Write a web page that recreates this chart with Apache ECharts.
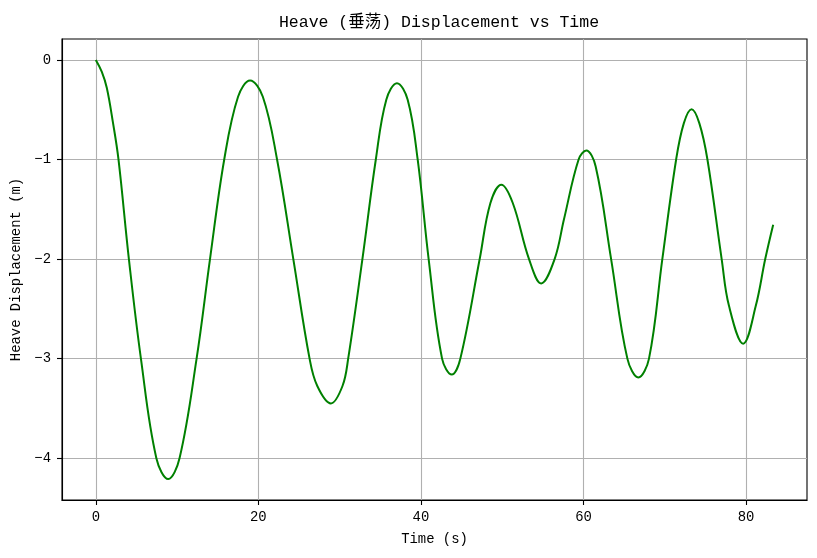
<!DOCTYPE html>
<html>
<head>
<meta charset="utf-8">
<script src="https://cdn.jsdelivr.net/npm/echarts@6/dist/echarts.min.js"></script>
<style>html,body{margin:0;padding:0;background:#fff;}#c{width:817px;height:558px;}</style>
</head>
<body>
<div id="c"></div>
<script>
const times = [0, 0.74, 1.35, 2.09, 2.79, 4.07, 5.55, 7.45, 8.91, 10.3, 12.4, 14.05, 15.8, 17.5, 18.98, 20.55, 22.3, 24.3, 26.3, 27.25, 28.92, 30.35, 31.05, 32.8, 34.45, 35.74, 37.05, 38.37, 39.6, 40.95, 42.6, 43.8, 44.85, 47.23, 48.55, 49.9, 51.3, 53.3, 54.8, 56.45, 57.6, 59.4, 60.34, 61.5, 63.4, 65.4, 66.75, 68.06, 69.7, 71.4, 72.35, 73.3, 74.25, 75.25, 77.0, 77.9, 79.65, 81.2, 82.36, 83.34];
const heave = [0, -0.12, -0.28, -0.62, -1, -2, -3, -4, -4.21, -4, -3, -2, -1, -0.37, -0.207, -0.37, -1, -2, -3, -3.275, -3.45, -3.275, -3, -2, -1, -0.40, -0.234, -0.40, -1, -2, -3, -3.16, -3, -2, -1.437, -1.253, -1.437, -2, -2.245, -2, -1.6, -1, -0.909, -1.07, -2, -3, -3.19, -3, -2, -1, -0.635, -0.495, -0.635, -1, -2, -2.47, -2.85, -2.47, -2, -1.655];
const xTicks = [0, 20, 40, 60, 80];
const yTicks = [0, -1, -2, -3, -4];
const titleText = 'Heave (垂荡) Displacement vs Time';
const xName = 'Time (s)';
const yName = 'Heave Displacement (m)';

const FONT = "'Liberation Mono', 'Noto Sans CJK SC', monospace";
const fmt = v => String(v).replace('-', '\u2212');
const chart = echarts.init(document.getElementById('c'), null, {renderer: 'canvas'});
chart.setOption({
  animation: false,
  backgroundColor: '#ffffff',
  title: {
    text: titleText,
    left: 434, top: 9,
    textAlign: 'center',
    textStyle: {fontFamily: FONT, fontSize: 16.5, fontWeight: 'normal', color: '#000'}
  },
  grid: {left: 62, right: 10, top: 39, bottom: 58, show: true, borderColor: '#000', borderWidth: 1.1, backgroundColor: 'transparent'},
  xAxis: {
    type: 'value', min: -4.16, max: 87.5,
    name: xName, nameLocation: 'middle', nameGap: 32,
    nameTextStyle: {fontFamily: FONT, fontSize: 13.9, color: '#000'},
    axisLine: {show: true, onZero: false, lineStyle: {color: '#000', width: 1.1}},
    axisTick: {show: true, inside: false, length: 5, lineStyle: {color: '#000', width: 1.1}, customValues: xTicks},
    axisLabel: {customValues: xTicks, formatter: fmt, fontFamily: FONT, fontSize: 13.9, color: '#000', margin: 10},
    splitLine: {show: true, lineStyle: {color: '#b0b0b0', width: 1.1}}
  },
  yAxis: {
    type: 'value', min: -4.42, max: 0.21,
    name: yName, nameLocation: 'middle', nameGap: 35, nameRotate: 90,
    nameTextStyle: {fontFamily: FONT, fontSize: 13.9, color: '#000'},
    axisLine: {show: true, onZero: false, lineStyle: {color: '#000', width: 1.1}},
    axisTick: {show: true, inside: false, length: 5, lineStyle: {color: '#000', width: 1.1}, customValues: yTicks},
    axisLabel: {customValues: yTicks, formatter: fmt, fontFamily: FONT, fontSize: 13.9, color: '#000', margin: 11},
    splitLine: {show: true, lineStyle: {color: '#b0b0b0', width: 1.1}}
  },
  series: [{
    type: 'line',
    data: times.map((t, i) => [t, heave[i]]),
    smooth: 0.38,
    showSymbol: false,
    lineStyle: {color: '#008000', width: 2},
    itemStyle: {color: '#008000'}
  }]
});
</script>
</body>
</html>
